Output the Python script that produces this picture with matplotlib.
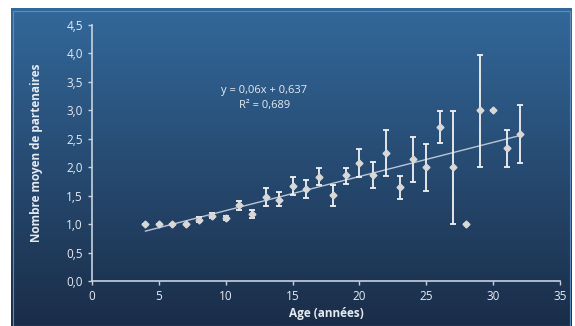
import numpy as np
import matplotlib
matplotlib.use('Agg')
import matplotlib.pyplot as plt
from matplotlib.patches import Rectangle

# mean number of partners by age, with error bars
ages = [4, 5, 6, 7, 8, 9, 10, 11, 12, 13, 14, 15, 16, 17, 18, 19, 20, 21, 22, 23, 24, 25, 26, 27, 28, 29, 30, 31, 32]
means = [1.0, 1.0, 1.0, 1.0, 1.07, 1.15, 1.11, 1.33, 1.17, 1.48, 1.43, 1.67, 1.62, 1.83, 1.51, 1.86,
         2.08, 1.87, 2.25, 1.65, 2.14, 2.0, 2.71, 2.0, 1.01, 3.0, 3.0, 2.33, 2.59]
err_low = [0, 0, 0, 0, 0.04, 0.05, 0.03, 0.08, 0.06, 0.16, 0.12, 0.15, 0.16, 0.15, 0.2, 0.16,
           0.25, 0.24, 0.41, 0.21, 0.4, 0.41, 0.28, 0.99, 0, 1.0, 0, 0.33, 0.51]
err_high = [0, 0, 0, 0, 0.05, 0.05, 0.03, 0.08, 0.07, 0.16, 0.13, 0.15, 0.15, 0.15, 0.18, 0.13,
            0.24, 0.23, 0.41, 0.19, 0.4, 0.41, 0.28, 0.99, 0, 0.98, 0, 0.33, 0.51]

slope = 0.06
intercept = 0.637
r2_text = 'R² = 0,689'
eq_text = 'y = 0,06x + 0,637'

y_ticks = [0, 0.5, 1.0, 1.5, 2.0, 2.5, 3.0, 3.5, 4.0, 4.5]
x_ticks = [0, 5, 10, 15, 20, 25, 30, 35]

plt.rcParams['font.family'] = ['Open Sans', 'DejaVu Sans']

fig = plt.figure(figsize=(5.75, 3.26), dpi=100)
fig.patch.set_facecolor('white')

# blue gradient panel behind the chart
bg = fig.add_axes([11 / 575, 0, 561 / 575, 1 - 8 / 326])
grad = np.linspace(0, 1, 256).reshape(-1, 1)
top = np.array([0x33, 0x68, 0x9b]) / 255
bot = np.array([0x1a, 0x2d, 0x48]) / 255
img = top + (bot - top) * grad[:, :, None]
bg.imshow(img, aspect='auto', extent=[0, 1, 0, 1])
bg.add_patch(Rectangle((0.004, 0.0), 0.992, 0.99, fill=False, edgecolor='#5f8cbb', lw=0.8,
                       transform=bg.transAxes))
bg.set_axis_off()

ax = fig.add_axes([92 / 575, 1 - 281 / 326, 468 / 575, 256 / 326])
ax.patch.set_alpha(0)

fg = '#e6ebf2'
ax.errorbar(ages, means, yerr=[err_low, err_high], fmt='D', color='#d8d8d8', markersize=3.5,
            ecolor='#f2f2f2', elinewidth=1.3, capsize=2.5, capthick=1.3, zorder=3)

xt = np.array([ages[0], ages[-1]])
ax.plot(xt, slope * xt + intercept, color='#b8c6d6', lw=1, zorder=2)

ax.text(12.9, 3.35, eq_text, color=fg, fontsize=8, ha='center', va='center')
ax.text(12.9, 3.08, r2_text, color=fg, fontsize=8, ha='center', va='center')

ax.set_xlim(0, 35)
ax.set_ylim(0, 4.5)
ax.set_xticks(x_ticks)
ax.set_xticklabels([str(t) for t in x_ticks])
ax.set_yticks(y_ticks)
ax.set_yticklabels([('%.1f' % t).replace('.', ',') for t in y_ticks])

for s in ['top', 'right']:
    ax.spines[s].set_visible(False)
for s in ['left', 'bottom']:
    ax.spines[s].set_color('#c8d2de')
    ax.spines[s].set_linewidth(1.2)
ax.tick_params(colors='#c8d2de', labelcolor=fg, labelsize=8.5, length=3, width=1)

ax.set_xlabel('Age (années)', color=fg, fontsize=8.5, fontweight='bold', labelpad=3)
ax.set_ylabel('Nombre moyen de partenaires', color=fg, fontsize=8.5, fontweight='bold', labelpad=17)

fig.savefig('out.png', dpi=100, facecolor='white')
